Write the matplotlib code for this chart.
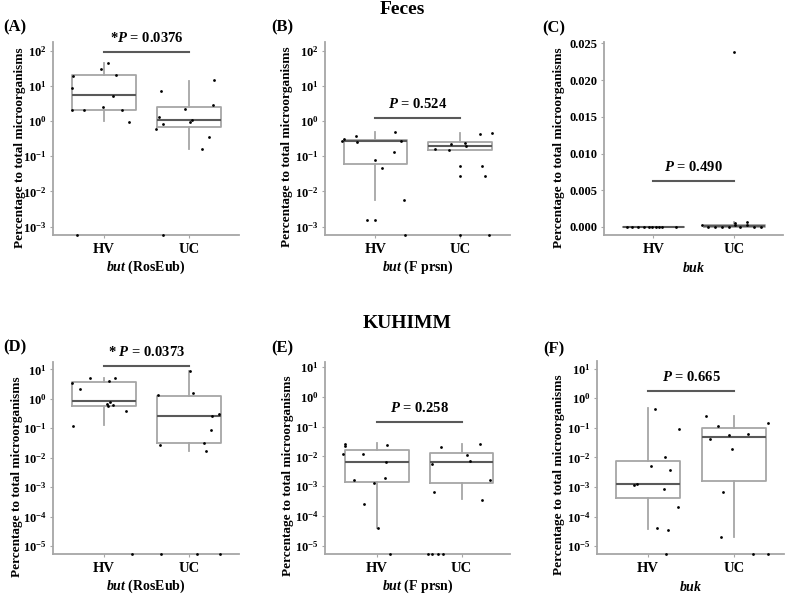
import numpy as np
import matplotlib
matplotlib.use('Agg')
import matplotlib.pyplot as plt
from matplotlib.ticker import FormatStrFormatter, NullLocator

plt.rcParams['font.family'] = 'Liberation Serif'
plt.rcParams['font.weight'] = 'bold'
plt.rcParams['axes.labelweight'] = 'bold'
plt.rcParams['mathtext.fontset'] = 'custom'
plt.rcParams['mathtext.rm'] = 'Liberation Serif:bold'
plt.rcParams['mathtext.bf'] = 'Liberation Serif:bold'
plt.rcParams['mathtext.it'] = 'Liberation Serif:italic:bold'

groups = ['HV', 'UC']
ylab = 'Percentage to total microorganisms'

# (A) feces, but (RosEub)
a_hv_y = [19, 8.5, 2.05, 2.1, 2.5, 31, 44, 20.6, 5.2, 2.0, 0.95, 0]
a_hv_x = [-0.37, -0.38, -0.38, -0.23, -0.01, -0.03, 0.05, 0.145, 0.11, 0.21, 0.30, -0.32]
a_uc_y = [7.1, 1.33, 0.80, 0.59, 2.15, 0.91, 1.07, 0.34, 0.157, 2.9, 14.6, 0]
a_uc_x = [-0.33, -0.35, -0.30, -0.385, -0.045, 0.01, 0.04, 0.235, 0.16, 0.285, 0.29, -0.30]
a_hv_box = [2.05, 5.4, 19.9, 0.98, 43.6]   # q1, median, q3, whisker low, whisker high
a_uc_box = [0.675, 1.09, 2.5, 0.16, 14]

# (B) feces, but (F prsn)
b_hv_y = [0.31, 0.275, 0.37, 0.25, 0.49, 0.275, 0.129, 0.078, 0.046, 0.0057, 0.0015, 0.0015, 0]
b_hv_x = [-0.37, -0.39, -0.23, -0.22, 0.235, 0.30, 0.215, -0.005, 0.08, 0.34, -0.095, 0.0, 0.35]
b_uc_y = [0.157, 0.153, 0.22, 0.24, 0.195, 0.42, 0.45, 0.052, 0.027, 0.052, 0.027, 0, 0]
b_uc_x = [-0.29, -0.13, -0.11, 0.055, 0.07, 0.23, 0.38, 0.0, 0.0, 0.26, 0.29, 0.0, 0.345]
b_hv_box = [0.06, 0.27, 0.29, 0.0057, 0.5]
b_uc_box = [0.15, 0.195, 0.26, 0.15, 0.45]

# (C) feces, buk
c_hv_y = [0.00001, 0.00002, 0.00001, 0.00003, 0.00002, 0.00001, 0.00002, 0.00003, 0.00001, 0.00002]
c_hv_x = [-0.33, -0.26, -0.19, -0.12, -0.06, -0.02, 0.03, 0.07, 0.11, 0.28]
c_uc_y = [0.00027, 0.00003, 0.00002, 0.00003, 0.00002, 0.0006, 0.00027, 0.00002, 0.00068, 0.0003, 0.00002, 0.00003, 0.0238]
c_uc_x = [-0.40, -0.33, -0.235, -0.15, -0.07, 0.01, 0.01, 0.07, 0.16, 0.16, 0.24, 0.33, 0.0]
c_hv_box = [0.00001, 0.00002, 0.00003, 0.0, 0.00005]
c_uc_box = [0.00003, 0.0001, 0.00025, 0.0, 0.0007]

# (D) KUHIMM, but (RosEub)
d_hv_y = [3.35, 2.2, 5.2, 4.0, 4.9, 0.79, 0.65, 0.57, 0.61, 0.38, 0.12, 0]
d_hv_x = [-0.38, -0.28, -0.16, 0.055, 0.126, 0.074, 0.035, 0.047, 0.11, 0.26, -0.365, 0.33]
d_uc_y = [1.3, 8.75, 1.6, 0.27, 0.30, 0.085, 0.028, 0.031, 0.0164, 0, 0, 0]
d_uc_x = [-0.365, 0.015, 0.047, 0.274, 0.356, 0.255, -0.338, 0.173, 0.197, -0.33, 0.098, 0.361]
d_hv_box = [0.58, 0.82, 3.6, 0.128, 5.2]
d_uc_box = [0.031, 0.27, 1.27, 0.0164, 8.8]

# (E) KUHIMM, but (F prsn)
e_hv_y = [0.0265, 0.0222, 0.0123, 0.0117, 0.0245, 0.0063, 0.0016, 0.00128, 0.00184, 0.00026, 3.8e-5, 0]
e_hv_x = [-0.38, -0.37, -0.40, -0.157, 0.115, 0.106, -0.274, -0.027, 0.094, -0.145, 0.015, 0.155]
e_uc_y = [0.02, 0.0253, 0.0114, 0.007, 0.0055, 0.00158, 0.00066, 0.00035, 0, 0, 0, 0]
e_uc_x = [-0.247, 0.215, 0.067, 0.098, -0.345, 0.33, -0.327, 0.243, -0.40, -0.35, -0.275, -0.22]
e_hv_box = [0.00142, 0.0065, 0.0163, 3.9e-5, 0.0273]
e_uc_box = [0.00128, 0.0063, 0.0129, 0.00037, 0.0253]

# (F) KUHIMM, buk
f_hv_y = [0.43, 0.09, 0.0106, 0.0053, 0.0037, 0.00119, 0.00131, 0.00089, 0.00021, 4.2e-5, 3.6e-5, 0]
f_hv_x = [0.074, 0.357, 0.2, 0.035, 0.255, -0.169, -0.134, 0.188, 0.345, 0.102, 0.231, 0.212]
f_uc_y = [0.25, 0.117, 0.041, 0.056, 0.063, 0.148, 0.0188, 0.00069, 2.1e-5, 0, 0]
f_uc_x = [-0.333, -0.188, -0.279, -0.055, 0.161, 0.392, -0.027, -0.129, -0.149, 0.22, 0.39]
f_hv_box = [0.00042, 0.00131, 0.0076, 3.8e-5, 0.45]
f_uc_box = [0.0016, 0.0488, 0.1, 2.1e-5, 0.248]

p_texts = ['*$P$ = 0.0376', '$P$ = 0.524', '$P$ = 0.490', '* $P$ = 0.0373', '$P$ = 0.258', '$P$ = 0.665']
bar_y = [91, 1.24, 0.0063, 13.2, 0.145, 1.8]
genes = ['$but$ (RosEub)', '$but$ (F prsn)', '$buk$', '$but$ (RosEub)', '$but$ (F prsn)', '$buk$']
letters = ['(A)', '(B)', '(C)', '(D)', '(E)', '(F)']

W, H = 787, 596
fig = plt.figure(figsize=(W / 100, H / 100), dpi=100)

grey = '#a6a6a6'
dark = '#595959'

# layout in pixels: left, right, top, bottom
rects = [(53, 239, 42, 235), (325, 510, 42, 235), (604, 783, 42, 235),
         (53, 239, 362, 554), (325, 510, 362, 554), (597, 784, 361, 554)]
ylims = [(10**-3.24, 10**2.245), (10**-3.24, 10**2.245), (-0.0011, 0.0252),
         (10**-5.27, 10**1.25), (10**-5.28, 10**1.17), (10**-5.26, 10**1.255)]
xlims = [(0.4, 2.59), (0.405, 2.59), (0.39, 2.6), (0.4, 2.59), (0.39, 2.57), (0.405, 2.58)]
ylab_pos = [(-0.18, 0.45), (-0.205, 0.455), (-0.25, 0.45), (-0.195, 0.405), (-0.2, 0.41), (-0.205, 0.41)]
letter_pos = [(15, 27), (282, 27), (554, 28), (15, 347), (282, 348), (554, 349)]

hv_ys = [a_hv_y, b_hv_y, c_hv_y, d_hv_y, e_hv_y, f_hv_y]
hv_xs = [a_hv_x, b_hv_x, c_hv_x, d_hv_x, e_hv_x, f_hv_x]
uc_ys = [a_uc_y, b_uc_y, c_uc_y, d_uc_y, e_uc_y, f_uc_y]
uc_xs = [a_uc_x, b_uc_x, c_uc_x, d_uc_x, e_uc_x, f_uc_x]
hv_boxes = [a_hv_box, b_hv_box, c_hv_box, d_hv_box, e_hv_box, f_hv_box]
uc_boxes = [a_uc_box, b_uc_box, c_uc_box, d_uc_box, e_uc_box, f_uc_box]

for i in range(6):
    l, r, t, b = rects[i]
    ax = fig.add_axes([l / W, 1 - b / H, (r - l) / W, (b - t) / H])
    log = i != 2
    if log:
        ax.set_yscale('log')
    ax.set_ylim(*ylims[i])
    ax.set_xlim(*xlims[i])

    stats = []
    for box in [hv_boxes[i], uc_boxes[i]]:
        stats.append({'q1': box[0], 'med': box[1], 'q3': box[2],
                      'whislo': box[3], 'whishi': box[4]})
    ax.bxp(stats, positions=[1, 2], widths=0.75, showcaps=False, showfliers=False,
           boxprops=dict(color=grey, linewidth=1.3),
           whiskerprops=dict(color=grey, linewidth=1.3),
           medianprops=dict(color=dark, linewidth=1.5))

    floor = ylims[i][0]
    for pos, ys, xs in [(1, hv_ys[i], hv_xs[i]), (2, uc_ys[i], uc_xs[i])]:
        ys = np.array(ys, dtype=float)
        if log:
            ys = np.where(ys <= 0, floor, ys)
        ax.plot(pos + np.array(xs), ys, 'o', ms=2, color='black', mec='none', clip_on=False, zorder=3)

    # significance bar
    ax.plot([1, 2], [bar_y[i], bar_y[i]], color=dark, linewidth=1.5)
    ax.annotate(p_texts[i], xy=(1.5, bar_y[i]), xytext=(0, 9.8), textcoords='offset points',
                ha='center', va='center', fontsize=10.5, fontweight='bold')

    ax.set_xticks([1, 2])
    ax.set_xticklabels(groups)
    if log:
        lo = int(np.ceil(np.log10(ylims[i][0])))
        hi = int(np.floor(np.log10(ylims[i][1])))
        ax.set_yticks([10.0**k for k in range(lo, hi + 1)])
        ax.yaxis.set_minor_locator(NullLocator())
    else:
        ax.set_yticks([0.0, 0.005, 0.010, 0.015, 0.020, 0.025])
        ax.yaxis.set_major_formatter(FormatStrFormatter('%.3f'))

    for s in ['top', 'right']:
        ax.spines[s].set_visible(False)
    for s in ['left', 'bottom']:
        ax.spines[s].set_color(grey)
        ax.spines[s].set_linewidth(1.3)
    ax.tick_params(axis='y', length=2.5, width=0.8, color=grey, pad=2, labelsize=9)
    ax.tick_params(axis='x', length=2.5, width=0.8, color=grey, pad=3, labelsize=10.5)

    ax.set_ylabel(ylab, fontsize=9.5)
    ax.yaxis.set_label_coords(*ylab_pos[i])
    ax.yaxis.label.set_va('center')
    ax.set_xlabel(genes[i], fontsize=10)
    ax.xaxis.set_label_coords(0.5, -0.17)
    ax.xaxis.label.set_va('center')

    lx, ly = letter_pos[i]
    fig.text(lx / W, 1 - ly / H, letters[i], ha='center', va='center', fontsize=12, fontweight='bold')

fig.text(402 / W, 1 - 9 / H, 'Feces', ha='center', va='center', fontsize=14, fontweight='bold')
fig.text(407 / W, 1 - 323 / H, 'KUHIMM', ha='center', va='center', fontsize=14, fontweight='bold')

fig.savefig('out.png', dpi=100)
